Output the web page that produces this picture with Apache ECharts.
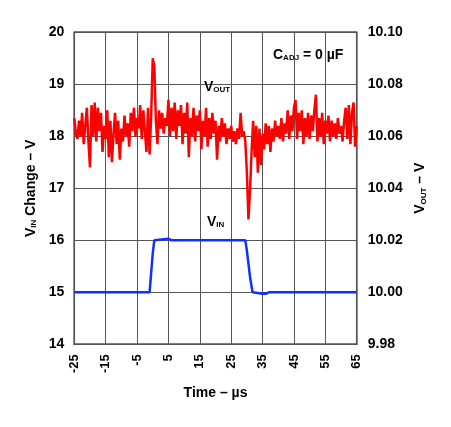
<!DOCTYPE html>
<html><head><meta charset="utf-8">
<script src="https://cdn.jsdelivr.net/npm/echarts@6/dist/echarts.min.js"></script>
<style>html,body{margin:0;padding:0;background:#fff}#c{width:451px;height:427px}</style>
</head><body><div id="c"></div>
<script>
// X axis ticks (µs)
const timeTicks = [-25,-15,-5,5,15,25,35,45,55,65];
// VIN (left axis, V) as [time µs, volts]
const vinTime = [-25,-1,-0.6,0,0.5,1,5,6,29.5,30,31,31.8,32.3,35,35.5,36,37,50,50.4,50.8,65];
const vinVals = [15,15,15.3,15.75,16.0,16.03,16.03,16.0,16.0,15.8,15.3,15.0,14.97,14.97,15.0,14.97,15.0,15.0,15.02,15.0,15.0];
// VOUT (right axis, V) sampled every 0.5 µs starting at -25 µs
const voutStart = -25, voutStep = 0.5;
const voutVals = [
10.067,10.061,10.059,10.066,10.060,10.069,10.057,10.064,10.071,10.058,
10.048,10.072,10.060,10.073,10.058,10.071,10.062,10.069,10.054,10.064,
10.059,10.070,10.052,10.066,10.050,10.061,10.069,10.057,10.066,10.051,
10.063,10.058,10.068,10.060,10.065,10.056,10.069,10.062,10.071,10.060,
10.067,10.063,10.072,10.059,10.070,10.062,10.054,10.071,10.053,10.068,
10.090,10.087,10.066,
10.057,10.070,10.063,10.069,10.061,10.067,10.064,10.074,10.060,10.071,
10.062,10.073,10.059,10.070,10.064,10.072,10.057,10.069,10.061,10.073,
10.052,10.067,10.060,10.071,10.058,10.068,10.062,10.070,10.055,10.066,
10.060,10.071,10.056,10.067,10.059,10.069,10.061,10.066,10.051,10.064,
10.058,10.067,10.060,10.065,10.057,10.063,10.059,10.064,10.058,10.062,
10.057,10.063,10.059,10.069,10.060,10.062,10.058,
10.046,10.028,10.039,10.054,10.066,10.052,10.064,10.046,10.063,10.049,
10.061,10.055,10.065,10.057,10.064,10.054,10.063,10.058,10.066,10.060,
10.064,10.059,10.067,10.058,10.065,10.061,10.070,10.059,10.068,10.062,
10.071,10.074,10.059,10.069,10.062,10.070,10.057,10.067,10.060,10.069,
10.059,10.068,10.062,10.070,10.076,10.058,10.067,10.060,10.069,10.057,
10.066,10.061,10.068,10.058,10.066,10.060,10.065,10.059,10.067,10.061,
10.064,10.058,10.066,10.071,10.059,10.072,10.057,10.069,10.073,10.056,
10.064
];
const vinData = vinTime.map((t,i)=>[t, vinVals[i]]);
const voutData = voutVals.map((v,i)=>[voutStart + i*voutStep, v]);

const FONT = 'Liberation Sans';
const chart = echarts.init(document.getElementById('c'), null, {renderer:'canvas'});
const sub = {fontSize:8, fontWeight:'bold', fontFamily:FONT, color:'#000', verticalAlign:'bottom', padding:[5,0,0,0]};
const big = {fontSize:14, fontWeight:'bold', fontFamily:FONT, color:'#000'};
chart.setOption({
  animation:false,
  backgroundColor:'#fff',
  grid:{left:74.3, right:94.3, top:32.3, bottom:82.7, show:true, borderColor:'#000', borderWidth:1.5},
  xAxis:{type:'value', min:timeTicks[0], max:timeTicks[timeTicks.length-1], interval:10,
    axisLine:{show:false}, axisTick:{show:false},
    splitLine:{show:true, lineStyle:{color:'#555', width:1}},
    axisLabel:{rotate:90, margin:10, fontSize:13, fontWeight:'bold', fontFamily:FONT, color:'#000'},
    name:'Time – µs', nameLocation:'middle', nameGap:42,
    nameTextStyle:{fontSize:14, fontWeight:'bold', fontFamily:FONT, color:'#000'}},
  yAxis:[
    {type:'value', min:14, max:20, interval:1, position:'left',
     axisLine:{show:false}, axisTick:{show:false},
     splitLine:{show:true, lineStyle:{color:'#555', width:1}},
     axisLabel:{margin:10, fontSize:14, fontWeight:'bold', fontFamily:FONT, color:'#000'},
     name:'{v|V}{s|IN}{v| Change – V}', nameLocation:'middle', nameGap:32, nameRotate:90,
     nameTextStyle:{rich:{v:big, s:sub}}},
    {type:'value', min:9.98, max:10.10, interval:0.02, position:'right',
     axisLine:{show:false}, axisTick:{show:false}, splitLine:{show:false},
     axisLabel:{margin:11, fontSize:14, fontWeight:'bold', fontFamily:FONT, color:'#000',
       formatter:v=>v.toFixed(2)},
     name:'{v|V}{s|OUT}{v| – V}', nameLocation:'middle', nameGap:53, nameRotate:90,
     nameTextStyle:{rich:{v:big, s:sub}}}
  ],
  series:[
    {type:'line', name:'VIN', yAxisIndex:0, data:vinData, showSymbol:false,
     lineStyle:{color:'#1030ff', width:2.5}, z:3},
    {type:'line', name:'VOUT', yAxisIndex:1, data:voutData, showSymbol:false,
     lineStyle:{color:'#ff0000', width:2.5}, z:4}
  ],
  graphic:[
    {type:'text', left:273, top:48, z:10, style:{text:'{v|C}{s|ADJ}{v| = 0 µF}', rich:{v:big, s:sub}}},
    {type:'text', left:204, top:80, z:10, style:{text:'{v|V}{s|OUT}', rich:{v:big, s:sub}}},
    {type:'text', left:207, top:215, z:10, style:{text:'{v|V}{s|IN}', rich:{v:big, s:sub}}}
  ]
});
</script></body></html>
